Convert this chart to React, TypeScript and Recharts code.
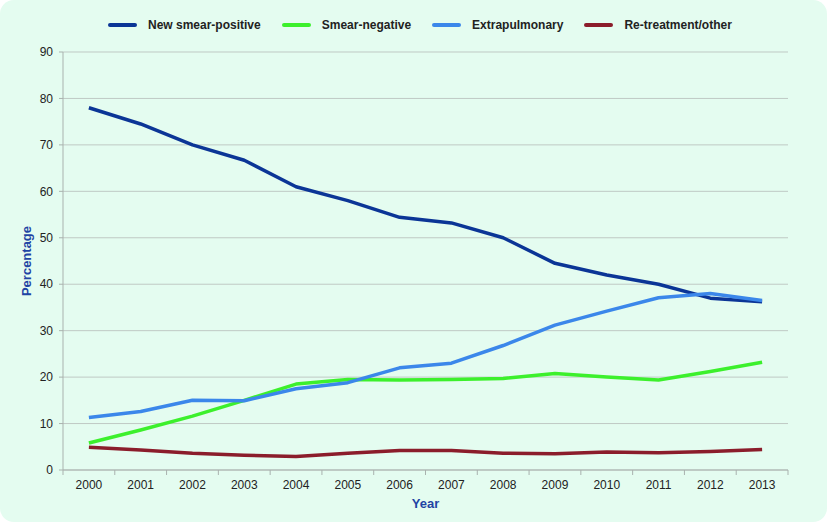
import { LineChart, Line, XAxis, YAxis, CartesianGrid, Label } from 'recharts';

const years = [2000, 2001, 2002, 2003, 2004, 2005, 2006, 2007, 2008, 2009, 2010, 2011, 2012, 2013];
const newSmearPositive = [78, 74.5, 70, 66.7, 61, 58, 54.4, 53.2, 50, 44.5, 42, 40, 37, 36.2];
const smearNegative = [5.8, 8.6, 11.6, 15, 18.5, 19.5, 19.4, 19.5, 19.7, 20.8, 20, 19.4, 21.2, 23.2];
const extrapulmonary = [11.3, 12.6, 15, 14.9, 17.5, 18.8, 22, 23, 26.8, 31.2, 34.2, 37.1, 38, 36.5];
const retreatment = [4.9, 4.3, 3.6, 3.2, 2.9, 3.6, 4.2, 4.2, 3.6, 3.5, 3.9, 3.7, 4.0, 4.4];
const yTicks = [0, 10, 20, 30, 40, 50, 60, 70, 80, 90];

const series = [
  { key: 'nsp', name: 'New smear-positive', color: '#0b3596', values: newSmearPositive },
  { key: 'sn', name: 'Smear-negative', color: '#3cf02c', values: smearNegative },
  { key: 'ep', name: 'Extrapulmonary', color: '#3b87ea', values: extrapulmonary },
  { key: 'rt', name: 'Re-treatment/other', color: '#8b1d2b', values: retreatment },
];

const data = years.map((year, i) => {
  const row: Record<string, number> = { year };
  series.forEach((s) => (row[s.key] = s.values[i]));
  return row;
});

// tick marks sit between the years, like the original
const boundaries = [...years.map((y) => y - 0.5), years[years.length - 1] + 0.5];

const FONT = '"Liberation Sans", Arial, sans-serif';
const W = 827;
const H = 522;
const HALF_BAND = (788 - 63) / years.length / 2;

function YearTick({ x, y, payload }: any) {
  const v = payload.value;
  if (v > years[years.length - 1]) return <g />;
  return (
    <text x={x + HALF_BAND} y={y + 12} textAnchor="middle" fontSize={12} fill="#222" fontFamily={FONT}>
      {v + 0.5}
    </text>
  );
}

function LegendRow() {
  return (
    <div style={{ position: 'absolute', top: 18, left: 108, display: 'flex', alignItems: 'center', gap: 21, fontFamily: FONT }}>
      {series.map((s) => (
        <div key={s.key} style={{ display: 'flex', alignItems: 'center' }}>
          <span style={{ width: 29, height: 4, borderRadius: 2, background: s.color, marginRight: 11 }} />
          <span style={{ fontSize: 12, fontWeight: 'bold', color: '#222' }}>{s.name}</span>
        </div>
      ))}
    </div>
  );
}

export default function App() {
  return (
    <div style={{ position: 'absolute', left: 0, top: 0, width: W, height: H, background: '#fff' }}>
      <div style={{ position: 'relative', width: W, height: H, background: '#e4fcf0', borderRadius: 14 }}>
        <LineChart width={W} height={H} data={data} margin={{ top: 52, right: 39, left: 0, bottom: 0 }}>
          <CartesianGrid vertical={false} stroke="#bfc9c4" strokeWidth={1} />
          <XAxis
            dataKey="year"
            type="number"
            domain={[boundaries[0], boundaries[boundaries.length - 1]]}
            ticks={boundaries}
            tick={<YearTick />}
            height={52}
            stroke="#a9b2ae"
            tickSize={5}
            interval={0}
          >
            <Label value="Year" position="insideBottom" offset={14} fill="#1f44a4" fontWeight="bold" fontSize={13} fontFamily={FONT} />
          </XAxis>
          <YAxis
            domain={[0, 90]}
            ticks={yTicks}
            width={63}
            stroke="#a9b2ae"
            tickSize={4}
            tickMargin={6}
            tick={{ fontSize: 12, fill: '#222', fontFamily: FONT }}
            interval={0}
          >
            <Label value="Percentage" angle={-90} position="insideLeft" offset={26} fill="#1f44a4" fontWeight="bold" fontSize={13} fontFamily={FONT} style={{ textAnchor: 'middle' }} />
          </YAxis>
          {series.map((s) => (
            <Line
              key={s.key}
              dataKey={s.key}
              name={s.name}
              stroke={s.color}
              strokeWidth={3.5}
              strokeLinejoin="round"
              dot={false}
              type="linear"
              isAnimationActive={false}
            />
          ))}
        </LineChart>
        <LegendRow />
      </div>
    </div>
  );
}
